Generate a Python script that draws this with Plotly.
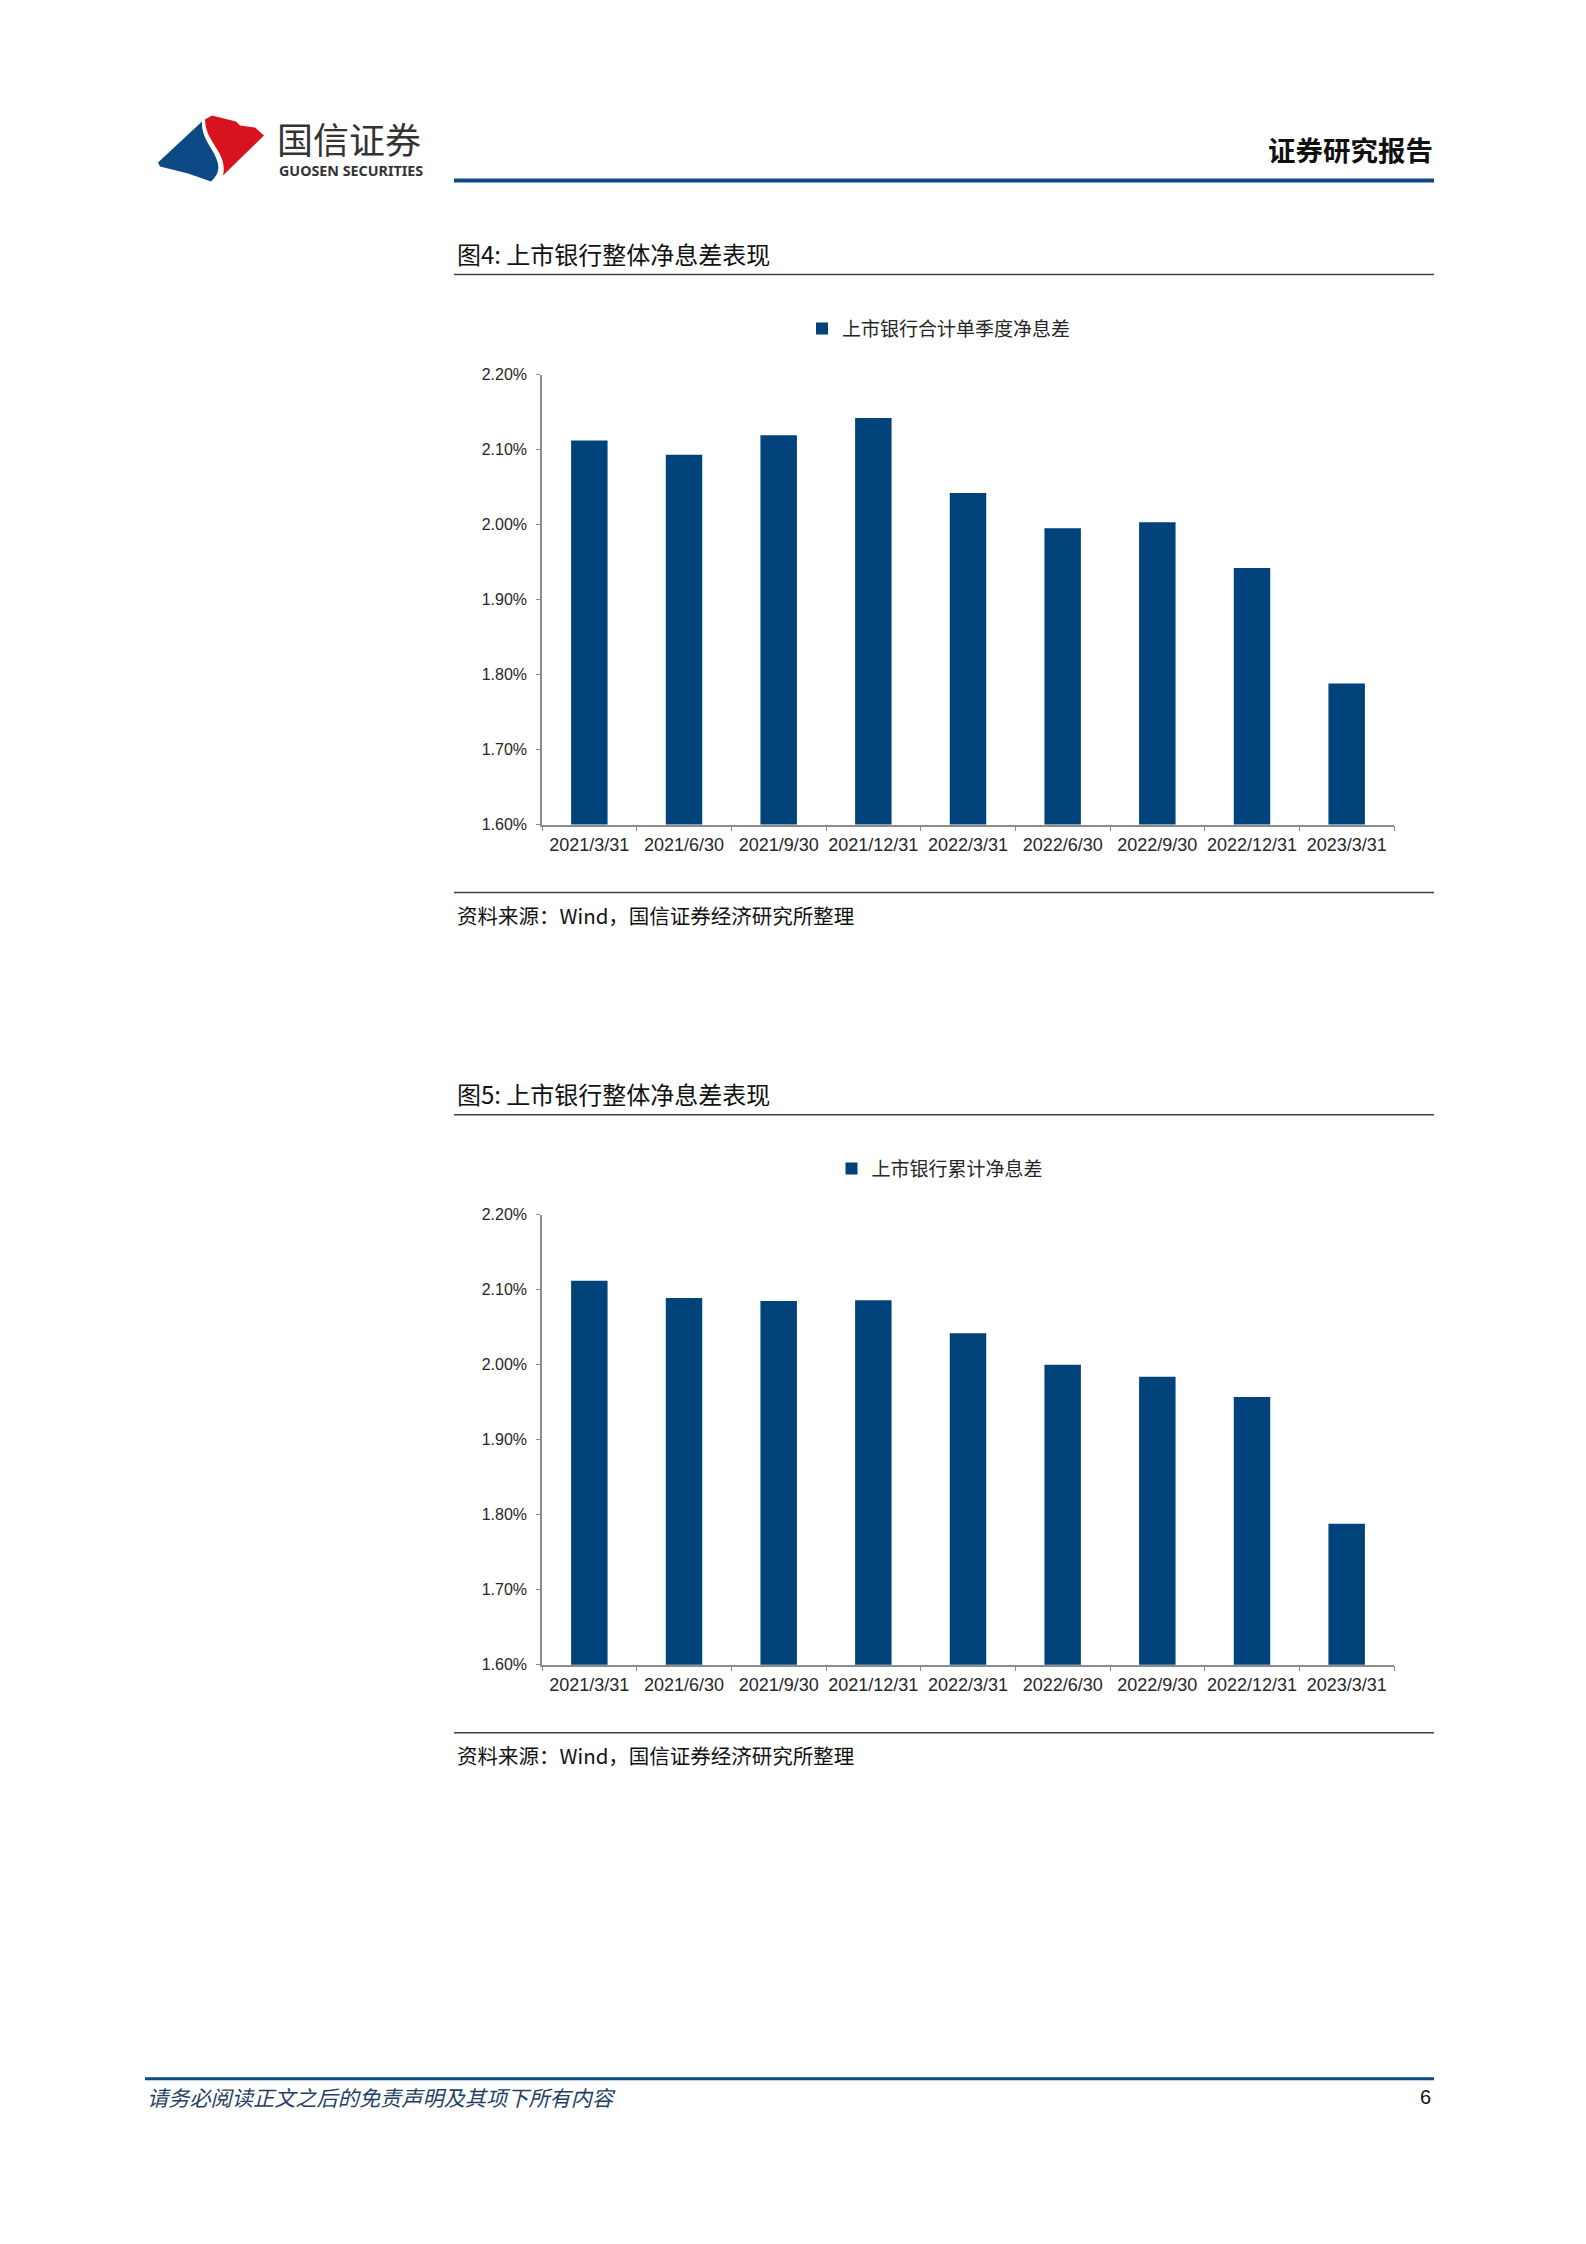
import plotly.graph_objects as go

# ---------------- data ----------------
categories = ["2021/3/31", "2021/6/30", "2021/9/30", "2021/12/31", "2022/3/31",
              "2022/6/30", "2022/9/30", "2022/12/31", "2023/3/31"]
quarterly_nim = [2.112, 2.093, 2.119, 2.142, 2.042, 1.995, 2.003, 1.942, 1.788]
cumulative_nim = [2.112, 2.089, 2.085, 2.086, 2.042, 2.000, 1.984, 1.957, 1.788]
series1_name = "上市银行合计单季度净息差"
series2_name = "上市银行累计净息差"
y_tick_vals = [1.60, 1.70, 1.80, 1.90, 2.00, 2.10, 2.20]
y_tick_text = ["1.60%", "1.70%", "1.80%", "1.90%", "2.00%", "2.10%", "2.20%"]
title1 = "图4: 上市银行整体净息差表现"
title2 = "图5: 上市银行整体净息差表现"
source_text = "资料来源：Wind，国信证券经济研究所整理"

# ---------------- page geometry ----------------
W, H = 1586, 2244
BAR_COLOR = "#00427a"
NAVY = "#0d4a85"
CJK = "Noto Sans CJK SC"
LAT = "Liberation Sans, Arial, sans-serif"

# measured vertical mapping of the capture: shot_y = 7.5 + 0.9923 * page_y
Y0, YS = 7.5, 0.9923


def T(y):
    """target picture y -> figure y"""
    return (y - Y0) / YS


def fx(px):
    return px / W


def fy(py):
    return (H - T(py)) / H


fig = go.Figure()

charts = [
    dict(vals=quarterly_nim, name=series1_name, top=374, bottom=824, dy=0,
         title=title1, lx=939),
    dict(vals=cumulative_nim, name=series2_name, top=1214, bottom=1664, dy=840,
         title=title2, lx=940),
]

for i, c in enumerate(charts, start=1):
    xa = "x" if i == 1 else f"x{i}"
    ya = "y" if i == 1 else f"y{i}"
    lg = "legend" if i == 1 else f"legend{i}"
    fig.add_trace(go.Bar(
        x=categories, y=c["vals"], name=c["name"], xaxis=xa, yaxis=ya,
        marker=dict(color=BAR_COLOR, line=dict(width=0)), width=0.385,
        legend=lg, showlegend=True, hoverinfo="x+y",
    ))
    xkey = "xaxis" if i == 1 else f"xaxis{i}"
    ykey = "yaxis" if i == 1 else f"yaxis{i}"
    fig.update_layout(**{
        xkey: dict(
            domain=[fx(542), fx(1394)], anchor=ya, type="category",
            range=[-0.5, len(categories) - 0.5],
            showline=True, linecolor="#8c8c8c", linewidth=1.5,
            ticks="outside", tickson="boundaries", ticklen=5, tickcolor="#8c8c8c",
            tickwidth=1.2, showgrid=False, zeroline=False, ticklabelstandoff=3,
            tickangle=0,
            tickfont=dict(family=LAT, size=18, color="#262626"),
            fixedrange=True,
        ),
        ykey: dict(
            domain=[fy(c["bottom"]), fy(c["top"])], anchor=xa,
            range=[1.60, 2.20], tickmode="array", tickvals=y_tick_vals,
            ticktext=y_tick_text,
            showline=True, linecolor="#8c8c8c", linewidth=1.5,
            ticks="outside", ticklen=4, tickcolor="#8c8c8c", tickwidth=1.2,
            showgrid=False, zeroline=False, ticklabelstandoff=6,
            tickfont=dict(family=LAT, size=16, color="#262626"),
            fixedrange=True,
        ),
        lg: dict(
            x=fx(c["lx"]), y=fy(328 + c["dy"]), xref="paper", yref="paper",
            xanchor="center", yanchor="middle", orientation="h",
            font=dict(family=CJK, size=19, color="#262626"),
            bgcolor="rgba(0,0,0,0)", itemwidth=30, itemclick=False,
            itemdoubleclick=False,
        ),
    })

# hidden overlay axis in figure-pixel coordinates for decorations
fig.add_trace(go.Scatter(x=[], y=[], xaxis="x3", yaxis="y3", showlegend=False,
                         hoverinfo="skip"))
fig.update_layout(
    xaxis3=dict(domain=[0, 1], range=[0, W], visible=False, anchor="y3",
                fixedrange=True),
    yaxis3=dict(domain=[0, 1], range=[H, 0], visible=False, anchor="x3",
                fixedrange=True),
)

shapes = []
annotations = []


def hline(x0, x1, y, color, width):
    shapes.append(dict(type="line", xref="x3", yref="y3", x0=x0, x1=x1,
                       y0=T(y), y1=T(y),
                       line=dict(color=color, width=width), layer="above"))


def text(x, y, s, size, color="#1a1a1a", xanchor="left", family=CJK, bold=False,
         italic=False):
    if bold:
        s = f"<b>{s}</b>"
    if italic:
        s = f"<i>{s}</i>"
    annotations.append(dict(xref="x3", yref="y3", x=x, y=T(y), text=s,
                            showarrow=False, xanchor=xanchor, yanchor="middle",
                            font=dict(family=family, size=size, color=color)))


def path(cmds):
    out = []
    for cmd in cmds:
        if isinstance(cmd, str):
            out.append(cmd)
        else:
            out.append(f"{cmd[0]:.1f},{T(cmd[1]):.1f}")
    return " ".join(out)


# header
hline(454, 1434, 180, NAVY, 4)
text(1435, 148, "证券研究报告", 27.5, color="#111111", xanchor="right", bold=True)

# logo
blue = ["M", (158, 162), "L", (202, 121), "C", (201, 136), (211, 146), (215, 155),
        "C", (220, 165), (220, 173), (211, 181), "L", (188, 173), "L", (160, 166), "Z"]
red = ["M", (205, 119), "L", (212, 115), "L", (236, 121), "L", (240, 125),
       "L", (255, 127), "L", (264, 135), "L", (223, 175),
       "C", (225, 167), (223, 159), (219, 152), "C", (214, 143), (205, 133),
       (205, 119), "Z"]
shapes.append(dict(type="path", xref="x3", yref="y3", layer="above",
                   path=path(blue), fillcolor=NAVY, line=dict(width=0)))
shapes.append(dict(type="path", xref="x3", yref="y3", layer="above",
                   path=path(red), fillcolor="#d7141e", line=dict(width=0)))
text(275, 137, "国信证券", 36, color="#333333")
text(277, 170, "<b>GUOSEN SECURITIES</b>", 14.3, color="#333333",
     family="Noto Sans, Open Sans, sans-serif")

# chart frames
for c in charts:
    d = c["dy"]
    text(455, 253 + d, c["title"], 24, color="#111111")
    hline(454, 1434, 274 + d, "#404040", 1.5)
    hline(454, 1434, 892 + d, "#404040", 1.5)
    text(455, 914 + d, source_text, 20.5, color="#111111")

# footer
hline(145, 1434, 2078, NAVY, 3)
text(145, 2096, "请务必阅读正文之后的免责声明及其项下所有内容", 21.2, color="#1f3f66",
     italic=True)
text(1433, 2096, "6", 20, color="#111111", xanchor="right", family=LAT)

fig.update_layout(
    width=W, height=H, margin=dict(l=0, r=0, t=0, b=0, pad=0),
    paper_bgcolor="white", plot_bgcolor="rgba(0,0,0,0)",
    shapes=shapes, annotations=annotations, bargap=0.6,
    hovermode="closest",
)

page_css = ("document.documentElement.style.margin='0';"
            "document.documentElement.style.overflow='hidden';"
            "document.body.style.margin='0';"
            "document.body.style.padding='0';"
            "document.body.style.overflow='hidden';")

fig.write_html("out.html", config=dict(displayModeBar=False), post_script=page_css)
